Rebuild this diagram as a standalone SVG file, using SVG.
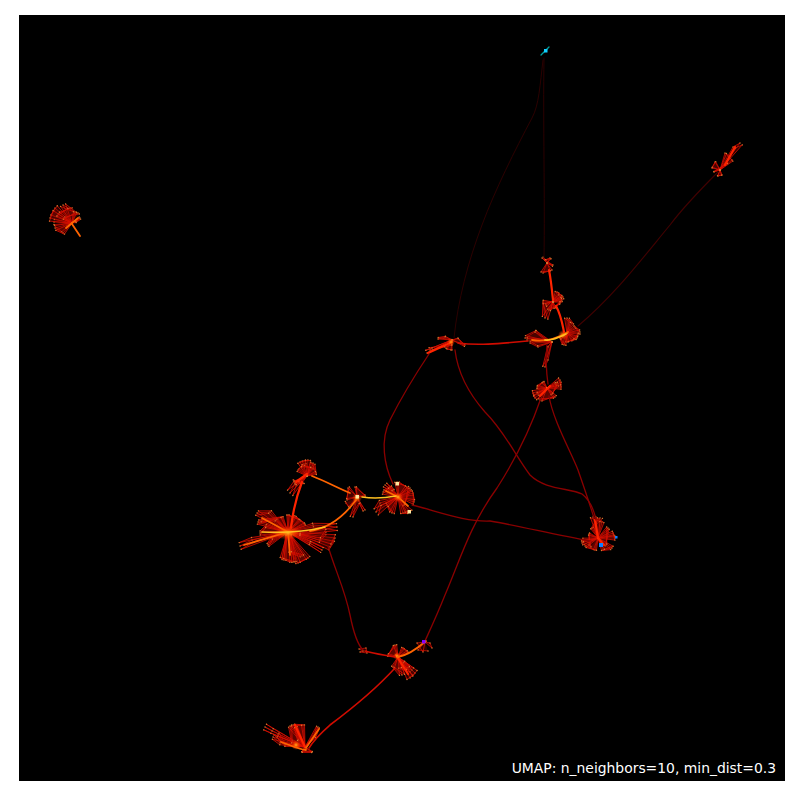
<svg xmlns="http://www.w3.org/2000/svg" width="800" height="800" viewBox="0 0 800 800">
<style>
path{fill:none;stroke-linecap:round;stroke-linejoin:round}
.faint{stroke:#2c0000;stroke-width:1}
.dim{stroke:#420000;stroke-width:1.1}
.dark{stroke:#8a0000;stroke-width:1.3}
.link{stroke:#d00c00;stroke-width:1.6}
.fan{stroke:#d80e00;stroke-width:.75;fill:#900500;fill-opacity:.3;marker-mid:url(#d);marker-end:url(#d)}
.body{stroke:#ff2400;stroke-width:2.2}
.org{stroke:#ff6400;stroke-width:1.8}
.yel{stroke:#ffc020;stroke-width:1.7}
.glow{fill:url(#g)}
text{font-family:"DejaVu Sans",sans-serif;font-size:13.9px;fill:#fff}
</style>
<defs>
<marker id="d" markerUnits="userSpaceOnUse" markerWidth="3" markerHeight="3" refX="1.5" refY="1.5"><circle cx="1.5" cy="1.5" r=".7" fill="#d87a30"/></marker>
<radialGradient id="g"><stop offset="0" stop-color="#ffb020"/><stop offset=".4" stop-color="#ff6000" stop-opacity=".7"/><stop offset="1" stop-color="#ff2000" stop-opacity="0"/></radialGradient>
</defs>
<rect x="19" y="15" width="766" height="766" fill="#000"/>
<g id="cluster-a"><path id="fa" class="fan" d="M288 532L240 546L252 540L288 532M288 532L257 513L270 512L288 532M288 532L258 522L282 517L288 532M288 532L288 515L300 520L288 532M288 532L313 525L337 527L300 534M288 532L335 538L330 547L300 535M288 532L322 550L310 543L288 532M288 532L308 558L298 563L288 532M288 532L282 558L292 562L288 532M288 532L268 545L272 538L288 532M288 532L260 533L266 526L288 532M288 532L276 520L262 520M288 532L295 516L305 524L288 532M288 532L320 540L326 532M288 532L302 556L290 552M286 535L284 560M291 535L294 562"/><use href="#fa" transform="rotate(4 288 532)"/><use href="#fa" transform="rotate(-4 288 532)"/><path class="org" d="M244 545L288 532M262 518L288 532M288 532L290 555"/><ellipse class="glow" cx="288" cy="533" rx="14" ry="7"/></g>
<g id="cluster-b"><path id="fb" class="fan" d="M307 476L300 462L308 460L307 476M307 476L313 463L316 473L307 476M307 476L295 483L290 493L300 483L307 476M303 483L294 482M307 476L298 470L304 464M307 476L312 468L303 466"/><use href="#fb" transform="rotate(9 307 476)"/><use href="#fb" transform="rotate(-9 307 476)"/><path class="body" d="M296 482L307 474"/></g>
<g id="cluster-c"><path id="fc" class="fan" d="M357 497L347 500L348 488L357 497M357 497L365 495L355 487L357 497M357 497L365 510L360 503L353 517L357 497M357 497L350 508L346 503"/><use href="#fc" transform="rotate(8 357 497)"/><circle class="glow" cx="357" cy="498" r="5"/></g>
<g id="cluster-d"><path id="fd" class="fan" d="M398 497L376 512L380 503L398 497M398 497L383 492L390 487L398 497M398 497L397 482L407 487L398 497M398 497L413 493L414 502L398 497M398 497L410 512L403 513L398 497M398 497L387 505L392 513L398 497M398 497L385 485L393 490M398 497L410 488L404 505"/><use href="#fd" transform="rotate(8 398 497)"/><use href="#fd" transform="rotate(-8 398 497)"/><path class="org" d="M386 491L398 497L408 506"/><circle class="glow" cx="398" cy="497" r="5"/></g>
<g id="cluster-i"><path id="fi" class="fan" d="M452 340L427 353L433 350L452 340M452 340L438 339L445 337L452 340M452 340L458 338L465 345L452 340M452 340L452 350L447 349L452 340M430 350L445 347L452 345"/><use href="#fi" transform="rotate(6 452 340)"/><path class="body" d="M428 353L452 342"/><circle class="glow" cx="451" cy="342" r="4"/></g>
<g id="cluster-j"><path id="fj" class="fan" d="M552 342L525 338L535 332L552 342M552 342L538 347L530 343L552 342M552 342L548 347L545 367L548 360L552 342M535 332L545 340L527 340"/><use href="#fj" transform="rotate(5 552 342)"/></g>
<g id="cluster-k"><path id="fk" class="fan" d="M567 333L580 332L575 327L567 333M567 333L567 318L572 323L567 333M567 333L577 338L567 342L567 333M567 333L560 338L564 345L567 333M567 333L573 340L578 335"/><use href="#fk" transform="rotate(9 567 333)"/><use href="#fk" transform="rotate(-9 567 333)"/><circle class="glow" cx="563" cy="335" r="5"/></g>
<g id="cluster-l"><path id="fl" class="fan" d="M553 302L543 302L545 318L553 302M553 302L563 297L557 292L553 302M553 302L562 300L555 308L553 302M553 302L549 310L560 303M546 305L560 296"/><use href="#fl" transform="rotate(10 553 302)"/><use href="#fl" transform="rotate(-10 553 302)"/></g>
<g id="cluster-m"><path id="fm" class="fan" d="M547 263L542 258L553 265L547 263M547 263L543 273L552 270L547 263M547 263L550 258L545 260"/><use href="#fm" transform="rotate(12 547 263)"/></g>
<g id="cluster-n"><path id="fn" class="fan" d="M547 388L533 393L535 398L547 388M547 388L540 400L555 397L547 388M547 388L560 380L561 387L547 388M547 388L537 387L543 382L547 388M547 388L552 394L558 384M538 394L556 384"/><use href="#fn" transform="rotate(9 547 388)"/><use href="#fn" transform="rotate(-9 547 388)"/><path class="body" d="M540 396L550 386"/></g>
<g id="cluster-o"><path id="fo" class="fan" d="M598 538L593 517L602 522L598 538M598 538L613 533L615 538L598 538M598 538L612 548L603 550L598 538M598 538L595 550L585 546L598 538M598 538L582 543L583 540L598 538M598 538L592 528L600 518M598 538L608 528L606 545M598 538L589 534L590 546"/><use href="#fo" transform="rotate(7 598 538)"/><use href="#fo" transform="rotate(-7 598 538)"/><path class="body" d="M595 520L598 538L604 545"/><rect x="599" y="543" width="4" height="4" fill="#1080ff"/><rect x="615" y="536" width="2.500" height="2.500" fill="#1080ff"/></g>
<g id="cluster-p"><path id="fp" class="fan" d="M398 657L388 655L395 645L398 657M398 657L403 648L408 652L398 657M398 657L415 673L410 678L398 657M398 657L402 675L393 667L398 657M398 657L408 668L404 662M398 657L412 670L400 668"/><use href="#fp" transform="rotate(8 398 657)"/><use href="#fp" transform="rotate(-8 398 657)"/><path class="body" d="M396 655L408 674"/><circle class="glow" cx="397" cy="656" r="4"/></g>
<g id="cluster-q"><path id="fq" class="fan" d="M425 642L417 643L423 652L425 642M425 642L432 648L430 643L425 642M425 642L418 650L428 651"/></g>
<g id="cluster-r"><path class="fan" d="M363 651L359 649L366 648L367 653L360 652L363 651"/></g>
<g id="cluster-s"><path id="fs" class="fan" d="M305 747L265 727L272 731L305 747M305 747L273 737L280 743L305 747M305 747L293 725L303 725L305 747M305 747L296 727L298 740L305 747M305 747L318 727L315 737L305 747M305 747L312 752L302 752L305 747M305 747L285 745L278 735M305 747L290 726L292 742"/><use href="#fs" transform="rotate(4 305 747)"/><use href="#fs" transform="rotate(-4 305 747)"/><path class="body" d="M295 725L305 747"/><circle class="glow" cx="296" cy="745" r="5"/></g>
<g id="cluster-t"><path id="ft" class="fan" d="M72 223L50 218L55 208L72 223M72 223L63 205L75 212L72 223M72 223L80 218L76 222L72 223M72 223L63 233L55 228L72 223M72 223L58 214L70 208M72 223L54 222M72 223L64 218L78 213"/><use href="#ft" transform="rotate(8 72 223)"/><use href="#ft" transform="rotate(-8 72 223)"/><path class="org" d="M72 224L80 236M66 228L78 218"/></g>
<g id="cluster-u"><path id="fu" class="fan" d="M720 170L740 143L733 147L720 170M720 170L712 168L715 162L720 170M720 170L722 175L718 176L720 170M720 170L725 153L732 160L720 170M720 170L714 172L727 163"/><use href="#fu" transform="rotate(5 720 170)"/><path class="body" d="M735 147L725 165"/></g>
<g id="connectors">
<path class="faint" d="M543 60C540 85 539 105 532 118C515 150 495 190 482 225C468 262 458 300 454 338"/>
<path class="faint" d="M544 58C543 120 545 200 544 258"/>
<path class="dim" d="M718 172C700 190 685 205 670 225C645 255 615 295 578 326"/>
<path class="dark" d="M429 354C415 375 400 400 390 420C380 440 384 465 393 484"/>
<path class="dark" d="M455 350C458 375 470 395 485 412C505 432 515 455 530 475C545 490 570 488 582 494C590 500 594 510 596 520"/>
<path class="dark" d="M412 505C440 512 465 522 490 521C520 526 555 535 590 541"/>
<path class="dark" d="M549 396C553 420 570 450 578 470C585 490 590 505 594 518"/>
<path class="dark" d="M541 398C530 430 515 460 497 488C470 525 460 560 445 595C437 615 430 630 425 641"/>
<path class="dark" d="M328 546C335 570 345 590 350 615C353 630 358 645 363 650"/>
<path class="dark" d="M547 345C546 355 546 370 548 384"/>
<path class="link" d="M395 668C375 690 350 710 330 725C322 732 315 738 309 748"/>
<path class="link" d="M458 343C480 346 505 343 528 341"/>
<path class="link" d="M365 651C375 654 385 655 395 657"/>
<path class="body" d="M291 528C293 510 297 495 302 482"/>
<path class="org" d="M312 476C325 481 338 488 350 493"/>
<path class="yel" d="M362 497C375 499 385 498 396 496"/>
<path class="org" d="M356 500C345 515 330 528 310 531"/>
<path class="yel" d="M262 532C280 533 300 533 325 527"/>
<path class="org" d="M398 657C408 655 418 648 426 641"/>
<path class="body" d="M549 270C551 280 552 290 553 300M556 306C561 315 562 322 564 332"/>
<path class="org" d="M532 340C545 342 558 338 568 332"/>
<path class="yel" d="M545 340C552 341 560 337 566 334"/>
<path class="org" d="M281 742C290 745 298 749 306 750"/>
<path class="org" d="M306 748C310 742 315 735 319 729"/>
</g>
<g id="cluster-v"><path d="M541 55L549 47" stroke="#00a0a0" stroke-width="1.300"/><rect x="544" y="49" width="3.500" height="3.500" fill="#10d0ff"/></g>
<rect x="422" y="640" width="3.500" height="3.500" fill="#8000ff"/>
<rect x="395.500" y="482" width="3.500" height="3.500" fill="#ffe8a0"/><rect x="407.500" y="510" width="3.500" height="3.500" fill="#ffe8a0"/><rect x="355.500" y="495" width="3.500" height="3.500" fill="#ffe8a0"/>
<text x="776" y="773" text-anchor="end">UMAP: n_neighbors=10, min_dist=0.3</text>
</svg>
